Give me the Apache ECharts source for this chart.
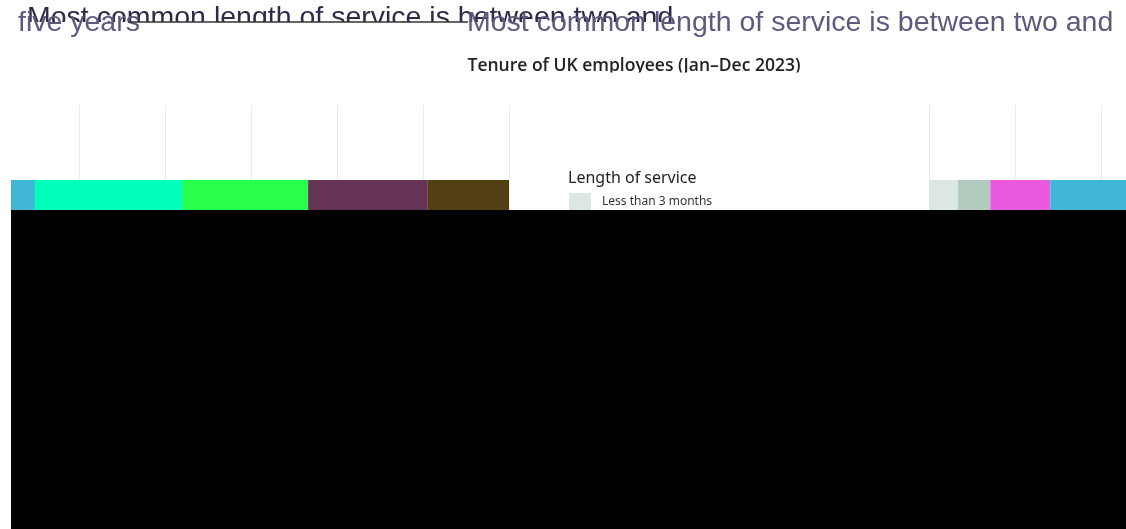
<!DOCTYPE html>
<html><head><meta charset="utf-8">
<script src="https://cdn.jsdelivr.net/npm/echarts@6/dist/echarts.min.js"></script>
<style>html,body{margin:0;padding:0;background:#fff}#c{width:1126px;height:529px}</style>
</head><body><div id="c"></div>
<script>
const titleText = 'Most common length of service is between two and';
const titleTail = 'five years';
const subtitle = 'Tenure of UK employees (Jan\u2013Dec 2023)';
const legendTitle = 'Length of service';
const categories = ['2023'];
const serviceNames = ['Less than 3 months','3 to 6 months','6 to 12 months','1 to 2 years','2 to 5 years','5 to 10 years','10 to 20 years','20 years or more'];
const serviceValues = [4.2, 4.7, 8.7, 13.5, 21.5, 18.2, 17.4, 11.8];
const serviceColors = ['#dde7e2','#b1cbbf','#e95ade','#41b6d6','#00ffba','#27ff4c','#643355','#523f14'];

const chart = echarts.init(document.getElementById('c'));
const series = [];
serviceNames.forEach((n, i) => {
  ['A','B'].forEach((g, gi) => {
    series.push({
      name: n, type: 'bar', stack: 'st' + g, xAxisIndex: gi, yAxisIndex: gi,
      barWidth: 30, data: [serviceValues[i]], itemStyle: {color: serviceColors[i]},
      emphasis: {disabled: true}, z: 2
    });
  });
});
const split = {show: true, lineStyle: {color: '#efe9ed', width: 1}};
const tFont = 'Liberation Sans';
chart.setOption({
  animation: false,
  backgroundColor: '#fff',
  grid: [
    {left: -7, top: 105, width: 516, height: 180, outerBoundsMode: 'none', containLabel: false},
    {left: 929, top: 105, width: 197, height: 180, outerBoundsMode: 'none', containLabel: false}
  ],
  xAxis: [
    {gridIndex: 0, type: 'value', min: 25, max: 100, interval: 12.5, axisLabel: {show: false}, axisLine: {show: false}, axisTick: {show: false}, splitLine: split},
    {gridIndex: 1, type: 'value', min: 0, max: 28.6, interval: 12.5, axisLabel: {show: false}, axisLine: {show: false}, axisTick: {show: false}, splitLine: Object.assign({showMaxLine: false}, split)}
  ],
  yAxis: [
    {gridIndex: 0, type: 'category', data: categories, show: false},
    {gridIndex: 1, type: 'category', data: categories, show: false}
  ],
  legend: {
    data: serviceNames, orient: 'vertical', left: 564, top: 188, itemWidth: 22, itemHeight: 17, itemGap: 8,
    icon: 'rect', selectedMode: false, z: 6,
    textStyle: {fontFamily: 'Noto Sans', fontSize: 12, color: '#333', padding: [0,0,0,6]}
  },
  series: series,
  graphic: [
    {type: 'text', z: 1, x: 27, y: 4, style: {text: titleText, fontFamily: tFont, fontSize: 28.5, fill: '#2e2a48', verticalAlign: 'top'}},
    {type: 'rect', z: 2, shape: {x: 0, y: 22, width: 1126, height: 26}, style: {fill: '#fff'}},
    {type: 'text', z: 3, x: 18, y: 9, style: {text: titleTail, fontFamily: tFont, fontSize: 28.5, fill: '#5d5a7e', verticalAlign: 'top'}},
    {type: 'text', z: 3, x: 467, y: 9, style: {text: titleText, fontFamily: tFont, fontSize: 28.5, fill: '#5d5a7e', verticalAlign: 'top'}},
    {type: 'line', z: 4, shape: {x1: 128, y1: 22, x2: 468, y2: 22}, style: {stroke: '#333', lineWidth: 1.5}},
    {type: 'text', z: 3, x: 634, y: 57, style: {text: subtitle, fontFamily: 'Open Sans', fontWeight: 600, fontSize: 17.5, fill: '#222', align: 'center', verticalAlign: 'top'}},
    {type: 'rect', z: 4, shape: {x: 455, y: 72.5, width: 360, height: 20}, style: {fill: '#fff'}},
    {type: 'rect', z: 5, shape: {x: 510, y: 100, width: 419, height: 110}, style: {fill: '#fff'}},
    {type: 'text', z: 6, x: 568, y: 170, style: {text: legendTitle, fontFamily: 'Noto Sans', fontSize: 16, fill: '#222', verticalAlign: 'top'}},
    {type: 'rect', z: 10, shape: {x: 0, y: 170, width: 11, height: 45}, style: {fill: '#fff'}},
    {type: 'rect', z: 10, shape: {x: 11, y: 210, width: 1115, height: 319}, style: {fill: '#000'}}
  ]
});
</script></body></html>
